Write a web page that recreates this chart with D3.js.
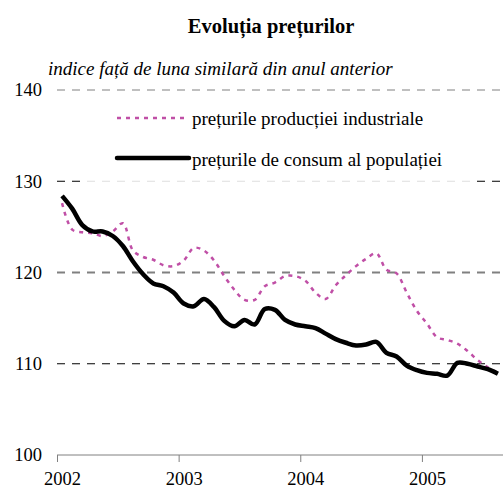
<!DOCTYPE html>
<html>
<head>
<meta charset="utf-8">
<script src="https://cdn.jsdelivr.net/npm/d3@7"></script>
<style>
  body { margin: 0; background: #fff; }
  svg { display: block; font-family: "Liberation Serif", "Times New Roman", serif; }
</style>
</head>
<body>
<script>
// monthly values, Jan 2002 .. Aug 2005
const years = ['2002', '2003', '2004', '2005'];
const yTicks = [100, 110, 120, 130, 140];

const industrial = [
  127.6, 124.7, 124.4, 124.3, 124.0, 124.5, 125.4, 122.4, 121.7, 121.4, 120.8, 120.7,
  121.3, 122.7, 122.4, 121.3, 119.6, 118.1, 117.0, 117.0, 118.5, 118.9, 119.6, 119.6,
  119.1, 117.8, 117.1, 118.6, 119.7, 120.7, 121.5, 122.1, 120.3, 119.9, 117.8, 115.8,
  114.4, 112.9, 112.6, 112.2, 111.4, 110.4, 109.6, 109.0
];
const consumer = [
  128.4, 127.0, 125.2, 124.5, 124.5, 124.0, 122.9, 121.2, 119.8, 118.8, 118.5, 117.8,
  116.6, 116.3, 117.1, 116.2, 114.7, 114.1, 114.8, 114.3, 116.0, 115.9, 114.8, 114.3,
  114.1, 113.9, 113.3, 112.7, 112.3, 112.0, 112.1, 112.4, 111.2, 110.8, 109.8, 109.3,
  109.0, 108.9, 108.7, 110.1, 110.0, 109.7, 109.4, 108.9
];

const W = 503, H = 488;
const margin = {top: 90, right: 0, bottom: 33, left: 57};
const serif = '"Liberation Serif", "Times New Roman", serif';

const svg = d3.select('body').append('svg')
  .attr('width', W)
  .attr('height', H);

const x = d3.scaleLinear()
  .domain([0, consumer.length])
  .range([margin.left, W - margin.right]);

const y = d3.scaleLinear()
  .domain([100, 140])
  .range([H - margin.bottom, margin.top]);

// title
svg.append('text')
  .attr('x', 271).attr('y', 33)
  .attr('text-anchor', 'middle')
  .style('font-size', '20.5px')
  .style('font-weight', 'bold')
  .text('Evoluția prețurilor');

svg.append('text')
  .attr('x', 48).attr('y', 75)
  .style('font-size', '19px')
  .style('font-style', 'italic')
  .text('indice față de luna similară din anul anterior');

// gridlines
const gridStyle = {
  110: {stroke: '#000', width: 1, dash: '8,7'},
  120: {stroke: '#808080', width: 2, dash: '8,7'},
  130: {stroke: '#000', width: 1, dash: '8,7'},
  140: {stroke: '#808080', width: 1, dash: '8,7'}
};
svg.append('g')
  .selectAll('line')
  .data(yTicks.filter(d => d > 100))
  .join('line')
  .attr('x1', x(0)).attr('x2', W)
  .attr('y1', d => y(d)).attr('y2', d => y(d))
  .attr('stroke', d => gridStyle[d].stroke)
  .attr('stroke-width', d => gridStyle[d].width)
  .attr('stroke-dasharray', d => gridStyle[d].dash);

// y labels
svg.append('g')
  .attr('transform', 'translate(' + (margin.left - 15) + ',0)')
  .call(d3.axisLeft(y).tickValues(yTicks).tickSize(0).tickPadding(0))
  .call(g => g.select('.domain').remove())
  .call(g => g.selectAll('text')
    .style('font-size', '18.5px')
    .style('font-family', serif)
    .attr('fill', '#000'));

// x axis
const xAxis = svg.append('g')
  .attr('transform', 'translate(0,' + y(100) + ')')
  .call(d3.axisBottom(x)
    .tickValues([0, 12, 24, 36])
    .tickSize(7)
    .tickFormat((d, i) => years[i]));
xAxis.select('.domain')
  .attr('d', 'M' + x(0) + ',0H' + W)
  .attr('stroke', '#808080');
xAxis.selectAll('.tick line').attr('stroke', '#808080');
xAxis.selectAll('.tick text')
  .attr('x', x(0.5) - x(0))
  .attr('y', 17)
  .attr('fill', '#000')
  .style('font-size', '18.5px')
  .style('font-family', serif);

// legend backdrop (semi-transparent, dims the grid under it)
svg.append('rect')
  .attr('x', 84).attr('y', 100)
  .attr('width', 386).attr('height', 88)
  .attr('fill', '#fff')
  .attr('fill-opacity', 0.87);

const line = d3.line()
  .x((d, i) => x(i + 0.5))
  .y(d => y(d))
  .curve(d3.curveCatmullRom);

svg.append('path')
  .datum(industrial)
  .attr('d', line)
  .attr('fill', 'none')
  .attr('stroke', '#c04fa6')
  .attr('stroke-width', 2.5)
  .attr('stroke-dasharray', '4,5');

svg.append('path')
  .datum(consumer)
  .attr('d', line)
  .attr('fill', 'none')
  .attr('stroke', '#000')
  .attr('stroke-width', 4.5)
  .attr('stroke-linejoin', 'round');

// legend
const legend = svg.append('g');
legend.append('line')
  .attr('x1', 117).attr('x2', 186)
  .attr('y1', 118).attr('y2', 118)
  .attr('stroke', '#c04fa6')
  .attr('stroke-width', 2.5)
  .attr('stroke-dasharray', '4,5');
legend.append('text')
  .attr('x', 192).attr('y', 125)
  .style('font-size', '19px')
  .text('prețurile producției industriale');
legend.append('line')
  .attr('x1', 117).attr('x2', 189)
  .attr('y1', 158).attr('y2', 158)
  .attr('stroke', '#000')
  .attr('stroke-width', 4.5)
  .attr('stroke-linecap', 'round');
legend.append('text')
  .attr('x', 192).attr('y', 166)
  .style('font-size', '19px')
  .text('prețurile de consum al populației');
</script>
</body>
</html>
